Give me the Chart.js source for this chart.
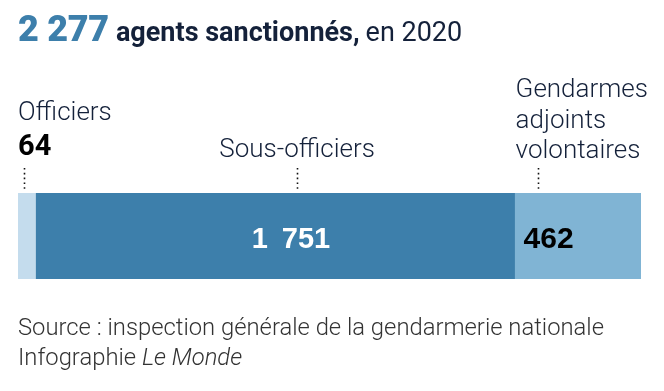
<!DOCTYPE html>
<html><head><meta charset="utf-8">
<script src="https://cdn.jsdelivr.net/npm/chart.js@4"></script>
<style>
html,body{margin:0;padding:0;background:#fff;}
#wrap{position:relative;width:664px;height:391px;overflow:hidden;}
#c{position:absolute;left:0;top:0;}
.t{position:absolute;white-space:nowrap;font-family:Roboto,"Noto Sans",sans-serif;}
#title{left:18px;top:9px;color:#14213a;line-height:40px;}
#title .n{color:#3d7fab;font-weight:900;font-size:36px;letter-spacing:-0.3px;}
#title .b{font-weight:700;font-size:27px;margin-left:3px;}
#title .r{font-weight:400;font-size:27px;margin-left:2px;}
#src{left:18px;top:312px;font-weight:300;font-size:23.8px;line-height:30px;color:#333;}
</style></head>
<body><div id="wrap">
<canvas id="c" width="664" height="391"></canvas>
<div class="t" id="title"><span class="n">2 277</span> <span class="b">agents sanctionnés,</span> <span class="r">en 2020</span></div>
<div class="t" id="src">Source : inspection générale de la gendarmerie nationale<br>Infographie <i>Le Monde</i></div>
</div>
<script>
const categories = ["Officiers", "Sous-officiers", "Gendarmes adjoints volontaires"];
const categoryLines = [["Officiers"], ["Sous-officiers"], ["Gendarmes", "adjoints", "volontaires"]];
const values = [64, 1751, 462];
const valueLabels = ["64", "1\u00a0\u2009751", "462"];
const leaderValues = [22, 1020, 1900];
const midLabelValue = 998;
const colors = ["#c4dced", "#3d7fab", "#80b4d4"];

const total = values.reduce((a, b) => a + b, 0);

const labelPlugin = {
  id: "labels",
  afterDraw(chart) {
    const ctx = chart.ctx;
    const xs = chart.scales.x;
    const area = chart.chartArea;
    const top = area.top, bottom = area.bottom;
    const starts = [], ends = [];
    let acc = 0;
    values.forEach(v => { starts.push(xs.getPixelForValue(acc)); acc += v; ends.push(xs.getPixelForValue(acc)); });
    ctx.save();
    // leader dotted lines
    ctx.strokeStyle = "#111";
    ctx.lineWidth = 1.6;
    ctx.setLineDash([1.6, 3.2]);
    leaderValues.forEach(v => {
      const x = Math.round(xs.getPixelForValue(v)) + 0.5;
      ctx.beginPath(); ctx.moveTo(x, top - 25); ctx.lineTo(x, top - 2); ctx.stroke();
    });
    ctx.setLineDash([]);
    // category labels
    ctx.fillStyle = "#14213a";
    ctx.font = "300 26px Roboto, 'Noto Sans', sans-serif";
    ctx.textBaseline = "alphabetic";
    ctx.textAlign = "left";
    ctx.fillText(categoryLines[0][0], starts[0], 120);
    ctx.textAlign = "center";
    ctx.fillText(categoryLines[1][0], xs.getPixelForValue(leaderValues[1]), 157);
    ctx.textAlign = "left";
    categoryLines[2].forEach((l, i) => ctx.fillText(l, ends[1] + 1, 97 + i * 30.5));
    // 64 above
    ctx.fillStyle = "#000";
    ctx.font = "700 29px Roboto, sans-serif";
    ctx.fillText(valueLabels[0], starts[0], 155);
    // values inside bar
    const baseY = 248;
    ctx.font = "700 29px 'Liberation Sans', Arial, sans-serif";
    ctx.fillStyle = "#fff";
    ctx.textAlign = "center";
    ctx.fillText(valueLabels[1], xs.getPixelForValue(midLabelValue), baseY);
    ctx.fillStyle = "#000";
    ctx.textAlign = "left";
    ctx.font = "700 30px 'Liberation Sans', Arial, sans-serif";
    ctx.fillText(valueLabels[2], ends[1] + 9, baseY);
    ctx.restore();
  }
};

new Chart(document.getElementById("c"), {
  type: "bar",
  data: {
    labels: [""],
    datasets: categories.map((c, i) => ({
      label: c, data: [values[i]], backgroundColor: colors[i],
      borderWidth: 0, barPercentage: 1, categoryPercentage: 1
    }))
  },
  options: {
    indexAxis: "y",
    responsive: false,
    animation: false,
    layout: { padding: { left: 18, right: 23, top: 193, bottom: 112 } },
    plugins: { legend: { display: false }, tooltip: { enabled: false } },
    scales: {
      x: { stacked: true, min: 0, max: total, display: false },
      y: { stacked: true, display: false }
    }
  },
  plugins: [labelPlugin]
});
</script>
</body></html>
